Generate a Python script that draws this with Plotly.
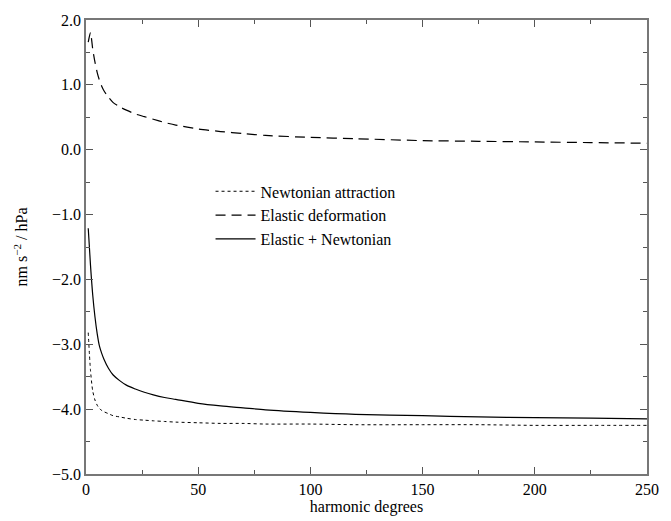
import plotly.graph_objects as go

# Harmonic degrees at which the admittance curves are sampled
degrees = [1, 2, 3, 4, 5, 6, 7, 8, 10, 12, 15, 18, 22, 26, 30, 35, 40, 50,
           60, 70, 80, 100, 120, 150, 175, 200, 225, 250]

# Gravity admittance components, nm s^-2 / hPa
newtonian = [-2.82, -3.40, -3.72, -3.86, -3.94, -3.99, -4.02, -4.04, -4.07,
             -4.10, -4.12, -4.14, -4.16, -4.17, -4.18, -4.19, -4.20, -4.21,
             -4.22, -4.22, -4.23, -4.23, -4.24, -4.24, -4.24, -4.25, -4.25,
             -4.25]
elastic = [1.66, 1.81, 1.55, 1.35, 1.19, 1.07, 0.98, 0.91, 0.81, 0.73, 0.66,
           0.61, 0.55, 0.51, 0.47, 0.42, 0.38, 0.32, 0.28, 0.25, 0.22, 0.19,
           0.17, 0.14, 0.13, 0.12, 0.11, 0.10]
combined = [-1.21, -1.78, -2.24, -2.58, -2.84, -3.03, -3.14, -3.23, -3.37,
            -3.47, -3.56, -3.63, -3.69, -3.74, -3.78, -3.82, -3.85, -3.91,
            -3.95, -3.98, -4.01, -4.05, -4.08, -4.10, -4.12, -4.13, -4.14,
            -4.15]

y_ticks = [2.0, 1.0, 0.0, -1.0, -2.0, -3.0, -4.0, -5.0]
y_tick_text = ["2.0", "1.0", "0.0", "−1.0", "−2.0", "−3.0", "−4.0", "−5.0"]
x_ticks = [0, 50, 100, 150, 200, 250]

FONT = "Liberation Serif"
SIZE = 16

fig = go.Figure()
fig.add_trace(go.Scatter(x=degrees, y=newtonian, mode="lines",
                         name="Newtonian attraction",
                         line=dict(color="black", width=1, dash="dot",
                                   shape="spline", smoothing=0.8)))
fig.add_trace(go.Scatter(x=degrees, y=elastic, mode="lines",
                         name="Elastic deformation",
                         line=dict(color="black", width=1.2, dash="10px,6px",
                                   shape="spline", smoothing=0.6)))
fig.add_trace(go.Scatter(x=degrees, y=combined, mode="lines",
                         name="Elastic + Newtonian",
                         line=dict(color="black", width=1.2,
                                   shape="spline", smoothing=0.8)))

axis_common = dict(
    showline=True, linecolor="#777777", linewidth=1.5, mirror="allticks",
    ticks="inside", ticklen=7, tickcolor="#555555", tickwidth=1,
    showgrid=False, zeroline=False,
    tickfont=dict(family=FONT, size=SIZE, color="black"),
)

fig.update_xaxes(
    range=[0, 250], tickvals=x_ticks,
    title=dict(text="harmonic degrees",
               font=dict(family=FONT, size=SIZE, color="black"), standoff=0),
    minor=dict(dtick=25, ticks="inside", ticklen=4, tickcolor="#555555"),
    **axis_common,
)
fig.update_yaxes(
    range=[-5.0, 2.0], tickvals=y_ticks, ticktext=y_tick_text,
    title=dict(text="nm s<sup>−2</sup> / hPa",
               font=dict(family=FONT, size=SIZE, color="black"), standoff=20),
    minor=dict(dtick=0.5, tick0=0, ticks="inside", ticklen=4, tickcolor="#555555"),
    **axis_common,
)

fig.update_layout(
    width=671, height=521,
    margin=dict(l=86, r=16, t=16, b=44),
    paper_bgcolor="white", plot_bgcolor="white",
    font=dict(family=FONT, color="black"),
    legend=dict(x=0.222, y=0.66, xanchor="left", yanchor="top",
                bgcolor="rgba(0,0,0,0)", font=dict(family=FONT, size=SIZE),
                tracegroupgap=0, itemwidth=40),
)

fig.write_html("out.html")
